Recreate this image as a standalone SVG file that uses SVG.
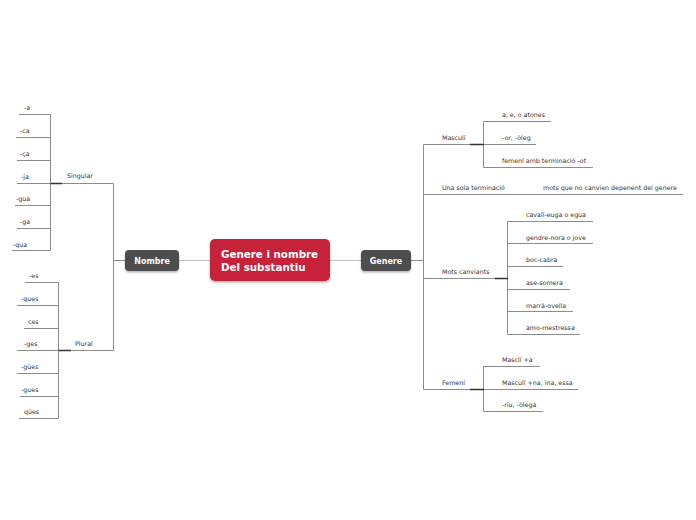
<svg xmlns="http://www.w3.org/2000/svg" width="696" height="520" viewBox="0 0 696 520">
<style>
.t{font-family:"DejaVu Sans","Liberation Sans",sans-serif;font-size:6.3px;fill:#333}
.ln{stroke:#8c8c8c;stroke-width:1;fill:none}
.tk{stroke:#333;stroke-width:1.5;fill:none}
.cn{stroke:#c0c0c0;stroke-width:1;fill:none}
.nd{fill:#4d4d4d}
.nt{font-family:"DejaVu Sans","Liberation Sans",sans-serif;font-weight:bold;font-size:8px;fill:#fff}
.ct{font-family:"DejaVu Sans","Liberation Sans",sans-serif;font-weight:bold;font-size:10.3px;fill:#fff}
</style>
<defs>
<filter id="sh" x="-20%" y="-20%" width="140%" height="160%"><feDropShadow dx="0" dy="1.5" stdDeviation="1.2" flood-color="#000" flood-opacity="0.3"/></filter>
</defs>
<rect width="696" height="520" fill="#fff"/>
<g id="connectors">
<path class="cn" d="M179 260.5H210M330 260.5H361"/>
<path class="ln" d="M125 260.5H113.5V183.5M113.5 260.5V350.5"/>
<path class="ln" d="M113.5 183.5H50.5M50.5 114.5V250.5"/>
<path class="tk" d="M50 183.5H62"/>
<path class="ln" d="M19 114.5H50.5M16 137.5H50.5M17 160.5H50.5M17 183.5H50.5M15 205.5H50.5M17 228.5H50.5M12 250.5H50.5"/>
<path class="ln" d="M113.5 350.5H58.5M58.5 282.5V418.5"/>
<path class="tk" d="M58 350.5H71"/>
<path class="ln" d="M25 282.5H58.5M17 305.5H58.5M24 328.5H58.5M17 350.5H58.5M17 373.5H58.5M20 396.5H58.5M19 418.5H58.5"/>
<path class="ln" d="M411 260.5H423.5M423.5 144.5V389.5"/>
<path class="ln" d="M423.5 144.5H483.5M483.5 121.5V167.5M483.5 121.5H551M483.5 144.5H536M483.5 167.5H593"/>
<path class="tk" d="M470 144.5H484"/>
<path class="ln" d="M423.5 194.5H683"/>
<path class="ln" d="M423.5 278.5H507.5M507.5 221.5V334.5M507.5 221.5H593M507.5 243.5H593M507.5 266.5H563M507.5 289.5H570M507.5 311.5H573M507.5 334.5H580"/>
<path class="tk" d="M495 278.5H508"/>
<path class="ln" d="M423.5 389.5H483.5M483.5 366.5V411.5M483.5 366.5H540M483.5 389.5H578M483.5 411.5H543"/>
<path class="tk" d="M470 389.5H484"/>
</g>
<g id="center">
<rect x="210" y="239" width="120" height="42" rx="5" fill="#c8203a" filter="url(#sh)"/>
<text class="ct" x="221" y="258">Genere i nombre</text>
<text class="ct" x="221" y="271">Del substantiu</text>
</g>
<g id="nombre">
<rect class="nd" x="125" y="250" width="54" height="21" rx="4" filter="url(#sh)"/>
<text class="nt" x="152" y="263.5" text-anchor="middle">Nombre</text>
</g>
<g id="genere">
<rect class="nd" x="361" y="250" width="50" height="21" rx="4" filter="url(#sh)"/>
<text class="nt" x="386" y="264" text-anchor="middle">Genere</text>
</g>
<g id="singular"><text class="t" x="67" y="178">Singular</text></g>
<g id="s1"><text class="t" x="24" y="110">-a</text></g>
<g id="s2"><text class="t" x="20" y="133">-ca</text></g>
<g id="s3"><text class="t" x="20" y="156">-ça</text></g>
<g id="s4"><text class="t" x="21" y="179">-ja</text></g>
<g id="s5"><text class="t" x="16" y="201">-gua</text></g>
<g id="s6"><text class="t" x="20" y="224">-ga</text></g>
<g id="s7"><text class="t" x="13" y="247">-qua</text></g>
<g id="plural"><text class="t" x="75" y="346">Plural</text></g>
<g id="p1"><text class="t" x="29" y="278">-es</text></g>
<g id="p2"><text class="t" x="21" y="301">-ques</text></g>
<g id="p3"><text class="t" x="28" y="324">ces</text></g>
<g id="p4"><text class="t" x="24" y="346">-ges</text></g>
<g id="p5"><text class="t" x="21" y="369">-gües</text></g>
<g id="p6"><text class="t" x="21" y="392">-gues</text></g>
<g id="p7"><text class="t" x="24" y="414">qües</text></g>
<g id="masculi"><text class="t" x="442" y="140">Masculí</text></g>
<g id="m1"><text class="t" x="502" y="117">a, e, o atones</text></g>
<g id="m2"><text class="t" x="502" y="140">-or, -òleg</text></g>
<g id="m3"><text class="t" x="502" y="163">femení amb terminació -ot</text></g>
<g id="unasola"><text class="t" x="442" y="190">Una sola terminació</text></g>
<g id="u1"><text class="t" x="543" y="190">mots que no canvien depenent del genere</text></g>
<g id="mots"><text class="t" x="442" y="274">Mots canviants</text></g>
<g id="c1"><text class="t" x="526" y="217">cavall-euga o egua</text></g>
<g id="c2"><text class="t" x="526" y="240">gendre-nora o jove</text></g>
<g id="c3"><text class="t" x="526" y="262">boc-cabra</text></g>
<g id="c4"><text class="t" x="526" y="285">ase-somera</text></g>
<g id="c5"><text class="t" x="526" y="308">marrà-ovella</text></g>
<g id="c6"><text class="t" x="526" y="330">amo-mestressa</text></g>
<g id="femeni"><text class="t" x="442" y="385">Femení</text></g>
<g id="f1"><text class="t" x="502" y="362">Masclí +a</text></g>
<g id="f2"><text class="t" x="502" y="385">Masculí +na, ina, essa</text></g>
<g id="f3"><text class="t" x="502" y="407">-riu, -òlega</text></g>
</svg>
